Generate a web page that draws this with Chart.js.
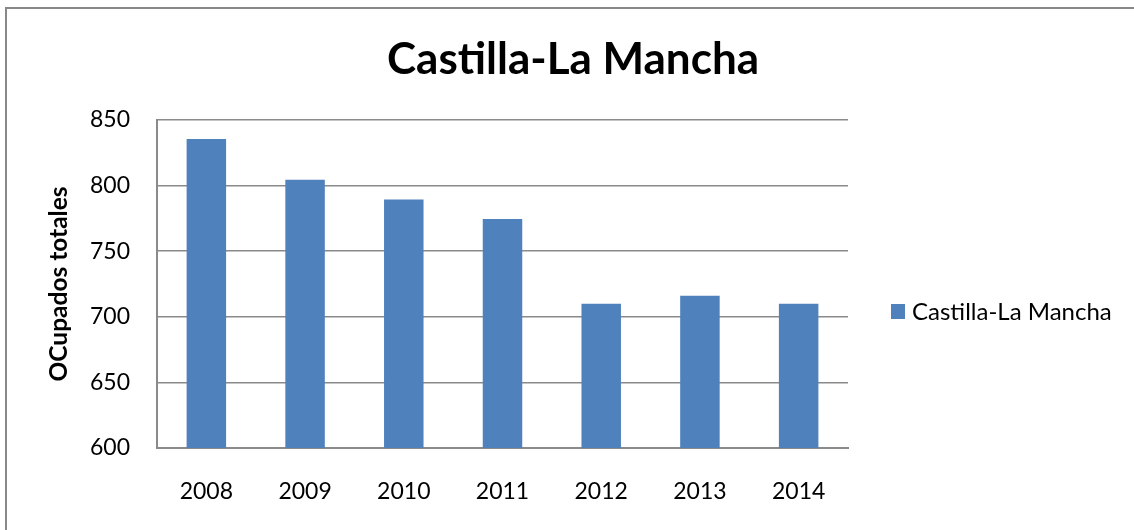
<!DOCTYPE html>
<html>
<head>
<meta charset="utf-8">
<script src="https://cdn.jsdelivr.net/npm/chart.js@4.4.1/dist/chart.umd.min.js"></script>
<style>
  html, body { margin: 0; padding: 0; background: #fff; overflow: hidden; }
  #wrap { position: relative; width: 1134px; height: 530px; }
  #frame { position: absolute; left: 5px; top: 7px; width: 1200px; height: 600px;
           border: 2px solid #888; pointer-events: none; box-sizing: border-box; }
  canvas { position: absolute; left: 0; top: 0; }
</style>
</head>
<body>
<div id="wrap">
  <canvas id="c" width="1134" height="530"></canvas>
  <div id="frame"></div>
</div>
<script>
const chartTitle = "Castilla-La Mancha";
const categories = ["2008", "2009", "2010", "2011", "2012", "2013", "2014"];
const seriesName = "Castilla-La Mancha";
const seriesValues = [835.5, 804.5, 789.5, 774.5, 710, 716, 710];
const yAxisTitle = "OCupados totales";
const yMin = 600, yMax = 850, yStep = 50;

const FONT = "Lato, 'Open Sans', sans-serif";
const BAR = "#4F81BD";
const GRID = "#8a8a8a";

const sideLegend = {
  id: "sideLegend",
  afterDraw(chart) {
    const ctx = chart.ctx;
    const area = chart.chartArea;
    const ds = chart.data.datasets[0];
    const x = area.right + 43;
    const y = 312;
    ctx.save();
    ctx.fillStyle = ds.backgroundColor;
    ctx.fillRect(x, y - 8, 14, 15);
    ctx.fillStyle = "#000";
    ctx.font = "24px " + FONT;
    ctx.textAlign = "left";
    ctx.textBaseline = "middle";
    ctx.fillText(ds.label, x + 21, y);
    ctx.restore();
  }
};

new Chart(document.getElementById("c"), {
  type: "bar",
  data: {
    labels: categories,
    datasets: [{
      label: seriesName,
      data: seriesValues,
      backgroundColor: BAR,
      borderWidth: 0,
      categoryPercentage: 1.0,
      barPercentage: 0.4,
      yAxisID: "y"
    }]
  },
  options: {
    responsive: false,
    animation: false,
    devicePixelRatio: 1,
    layout: { padding: { left: 12, right: 0, top: 0, bottom: 0 } },
    plugins: {
      legend: { display: false },
      tooltip: { enabled: false },
      title: {
        display: true,
        text: chartTitle,
        color: "#000",
        font: { family: FONT, size: 44, weight: "bold" },
        padding: { top: 33.6, bottom: 33.6 }
      }
    },
    scales: {
      x: {
        grid: { display: false, drawTicks: false },
        border: { display: true, color: GRID, width: 2 },
        ticks: { color: "#000", font: { family: FONT, size: 23 }, padding: 30, maxRotation: 0 },
        afterFit(s) { s.height = 82; }
      },
      y: {
        position: "left",
        min: yMin, max: yMax,
        grid: { color: GRID, lineWidth: 1.5, drawTicks: false },
        border: { display: true, color: GRID, width: 2 },
        ticks: { stepSize: yStep, color: "#000", font: { family: FONT, size: 23 }, padding: 27 },
        title: {
          display: true,
          text: yAxisTitle,
          color: "#000",
          font: { family: FONT, size: 24.5, weight: "bold" },
          padding: { top: 32, bottom: 0 }
        },
        afterFit(s) { s.width = 145; }
      },
      legendSpace: {
        position: "right",
        display: true,
        min: yMin, max: yMax,
        grid: { display: false, drawTicks: false },
        border: { display: false },
        ticks: { display: false },
        afterFit(s) { s.width = 286; }
      }
    }
  },
  plugins: [sideLegend]
});
</script>
</body>
</html>
